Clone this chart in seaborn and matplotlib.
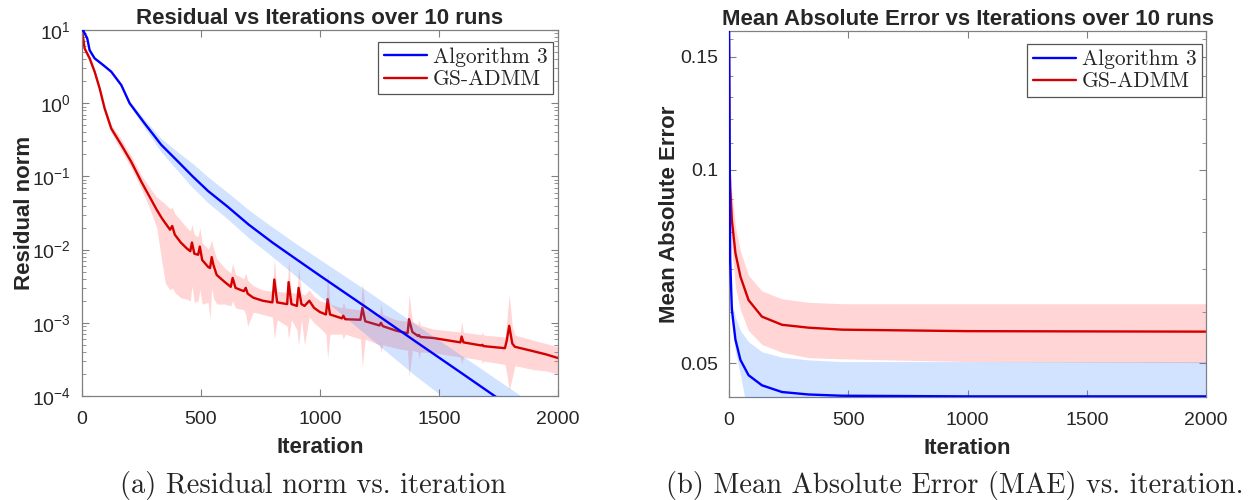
import numpy as np
import pandas as pd
import matplotlib
matplotlib.use("Agg")
import matplotlib.pyplot as plt
import matplotlib.ticker as mticker
from matplotlib.lines import Line2D
import seaborn as sns

# ---- residual norm (left) ----
alg_iter = [0, 4, 22, 32, 53, 90, 123, 165, 200, 263, 333, 403, 465, 530, 610,
            700, 800, 900, 1000, 1200, 1400, 1600, 1800, 2000]
alg_res = [10, 10, 7.7, 5.3, 4.1, 3.3, 2.69, 1.77, 1.0, 0.53, 0.27, 0.16, 0.1,
           0.063, 0.039, 0.022, 0.0125, 0.0074, 0.0044, 0.00158, 0.00056,
           0.0002, 7.1e-5, 2.5e-5]
alg_res_lo = [9.7, 9.7, 7.45, 5.1, 3.95, 3.17, 2.57, 1.68, 0.93, 0.46, 0.215, 0.118,
              0.07, 0.0435, 0.0265, 0.0145, 0.008, 0.0043, 0.0023, 0.00066,
              0.00019, 6.0e-5, 2.1e-5, 7e-6]
alg_res_hi = [10.3, 10.3, 7.95, 5.5, 4.25, 3.43, 2.81, 1.86, 1.07, 0.6, 0.33, 0.215,
              0.15, 0.098, 0.061, 0.035, 0.0203, 0.012, 0.0073, 0.0027, 0.00096,
              0.00035, 0.000126, 4.5e-5]

gs_iter = [0, 11, 32, 53, 74, 95, 123, 165, 207, 249, 285, 314,
           335, 350, 370, 379, 390, 415, 440, 455, 462, 472, 488, 495, 505, 530,
           538, 545, 552, 566, 600, 625, 633, 645, 680, 688, 696, 720, 760, 800,
           808, 820, 862, 868, 880, 903, 910, 922, 935, 955, 975, 1000, 1025, 1032,
           1042, 1092, 1098, 1106, 1170, 1178, 1190, 1250, 1256, 1264, 1320, 1368,
           1374, 1388, 1412, 1416, 1422, 1476, 1590, 1595, 1603, 1678, 1682, 1688,
           1777, 1785, 1795, 1808, 1819, 1895, 1950, 2000]
gs_res = [10.0, 5.6, 4.1, 2.7, 1.6, 0.85, 0.45, 0.27, 0.158, 0.085, 0.052, 0.035,
          0.027, 0.023, 0.0187, 0.021, 0.016, 0.0125, 0.0104,
          0.0095, 0.0125, 0.0088, 0.0085, 0.011, 0.0072, 0.0058, 0.0056, 0.0079,
          0.0062, 0.0045, 0.0036, 0.0031, 0.0041, 0.003, 0.0027, 0.003, 0.0025,
          0.0022, 0.0020, 0.0019, 0.0039, 0.0019, 0.0018, 0.0036, 0.0018, 0.0017,
          0.003, 0.0018, 0.0017, 0.002, 0.0016, 0.0014, 0.0013, 0.0021, 0.0013,
          0.00115, 0.00125, 0.00112, 0.0011, 0.0016, 0.00105, 0.00092, 0.001,
          0.0009, 0.00078, 0.00072, 0.00112, 0.00075, 0.00066, 0.00068, 0.00064,
          0.00062, 0.00054, 0.00065, 0.00054, 0.00049, 0.0005, 0.00048, 0.00045,
          0.00058, 0.00091, 0.00052, 0.00047, 0.00041, 0.00037, 0.00033]
gs_res_lo = [9.6, 5.2, 3.8, 2.5, 1.45, 0.76, 0.39, 0.225, 0.13, 0.068, 0.036, 0.02,
             0.007, 0.0035, 0.0028, 0.003, 0.0026,
             0.0022, 0.0021, 0.002, 0.0032, 0.0019, 0.002, 0.0028, 0.0018, 0.0019,
             0.0011, 0.003, 0.0022, 0.0018, 0.0018, 0.0017, 0.002, 0.0016, 0.0015,
             0.0013, 0.0009, 0.0014, 0.0013, 0.0012, 0.0006, 0.0011, 0.0009, 0.0006,
             0.0011, 0.0008, 0.0005, 0.0011, 0.0005, 0.0012, 0.001, 0.00085, 0.0007,
             0.00032, 0.0007, 0.0007, 0.0006, 0.0007, 0.0006, 0.00025, 0.0006,
             0.0005, 0.0004, 0.0005, 0.00045, 0.00042, 0.00018, 0.00042, 0.0004,
             0.00032, 0.0004, 0.00039, 0.00034, 0.00028, 0.00034, 0.00031, 0.00028,
             0.0003, 0.00027, 0.0002, 0.00012, 0.00018, 0.00026, 0.00023, 0.00022,
             0.0002]
gs_res_hi = [10.4, 6.0, 4.4, 2.9, 1.75, 0.94, 0.51, 0.32, 0.19, 0.104, 0.07, 0.052,
             0.046, 0.042, 0.036, 0.038, 0.031, 0.025,
             0.02, 0.018, 0.022, 0.016, 0.015, 0.02, 0.0125, 0.0102, 0.0115, 0.0135,
             0.0105, 0.0075, 0.0056, 0.0048, 0.0065, 0.0046, 0.004, 0.0048, 0.0038,
             0.0032, 0.0028, 0.0027, 0.0075, 0.0027, 0.0026, 0.0072, 0.0026, 0.0025,
             0.0058, 0.0025, 0.0024, 0.0028, 0.0023, 0.002, 0.0019, 0.005, 0.0018,
             0.0016, 0.0019, 0.0016, 0.0015, 0.0036, 0.0015, 0.0013, 0.0018, 0.0013,
             0.0011, 0.00105, 0.0025, 0.00105, 0.00095, 0.0011, 0.00092, 0.00082,
             0.00075, 0.00105, 0.00074, 0.00069, 0.00075, 0.00068, 0.00064, 0.0011,
             0.0024, 0.0009, 0.00068, 0.00058, 0.00052, 0.00047]

# ---- mean absolute error (right) ----
alg_mae_iter = [0, 3, 5, 12, 27, 48, 82, 138, 222, 334, 474, 1000, 2000]
alg_mae = [0.17, 0.10, 0.0724, 0.0606, 0.0544, 0.0506, 0.0479, 0.0462, 0.0451,
           0.0447, 0.0445, 0.0444, 0.0444]
alg_mae_lo = [0.165, 0.095, 0.067, 0.0585, 0.052, 0.048, 0.041, 0.038, 0.038,
              0.038, 0.038, 0.038, 0.038]
alg_mae_hi = [0.175, 0.105, 0.078, 0.0621, 0.059, 0.0562, 0.054, 0.0521, 0.0511,
              0.0506, 0.0503, 0.0503, 0.0503]

gs_mae_iter = [0, 2, 5, 12, 27, 48, 82, 138, 222, 334, 474, 1000, 2000]
gs_mae = [0.16, 0.1036, 0.094, 0.0836, 0.0742, 0.0682, 0.0627, 0.0591, 0.0574,
          0.0568, 0.0564, 0.0561, 0.0560]
gs_mae_lo = [0.155, 0.095, 0.086, 0.0755, 0.0657, 0.0605, 0.0562, 0.0535, 0.052,
             0.051, 0.0508, 0.0503, 0.0501]
gs_mae_hi = [0.165, 0.112, 0.10, 0.092, 0.0816, 0.0748, 0.0685, 0.0648, 0.063,
             0.0622, 0.0619, 0.0619, 0.0619]

blue = "#0000ff"
red = "#d40000"
blue_fill = (0.2, 0.5, 1.0)
red_fill = (1.0, 0.4, 0.4)
spine_col = "#808080"

sns.set_style("ticks")
plt.rcParams["font.family"] = ["Liberation Sans", "DejaVu Sans"]
plt.rcParams["mathtext.default"] = "regular"
plt.rcParams["axes.edgecolor"] = spine_col
plt.rcParams["xtick.color"] = spine_col
plt.rcParams["ytick.color"] = spine_col
plt.rcParams["xtick.labelcolor"] = "#262626"
plt.rcParams["ytick.labelcolor"] = "#262626"

fig = plt.figure(figsize=(12.5, 5), dpi=100)
ax1 = fig.add_axes([82 / 1250, 104 / 500, 476 / 1250, 366 / 500])
ax2 = fig.add_axes([729 / 1250, 103 / 500, 477 / 1250, 366 / 500])


def draw(ax, it_a, a, a_lo, a_hi, it_g, g, g_lo, g_hi):
    ax.fill_between(it_g, g_lo, g_hi, color=red_fill, alpha=0.27, lw=0, zorder=1)
    sns.lineplot(x=it_g, y=g, ax=ax, color=red, lw=1.7, zorder=2)
    ax.fill_between(it_a, a_lo, a_hi, color=blue_fill, alpha=0.22, lw=0, zorder=3)
    sns.lineplot(x=it_a, y=a, ax=ax, color=blue, lw=1.7, zorder=4)
    ax.set_yscale("log")
    ax.set_xlim(0, 2000)
    ax.set_xticks([0, 500, 1000, 1500, 2000])
    ax.tick_params(which="both", direction="in", top=True, right=True, labelsize=14)
    ax.tick_params(axis="x", pad=11)
    ax.tick_params(axis="y", pad=8)
    ax.tick_params(which="major", length=5, width=0.8)
    ax.tick_params(which="minor", length=3, width=0.6)
    for s in ax.spines.values():
        s.set_linewidth(0.9)
    ax.set_xlabel("Iteration", fontsize=16, fontweight="bold")
    ax.xaxis.set_label_coords(0.5, -0.112)
    handles = [Line2D([], [], color=blue, lw=1.7), Line2D([], [], color=red, lw=1.7)]
    return handles


h = draw(ax1, alg_iter, alg_res, alg_res_lo, alg_res_hi,
         gs_iter, gs_res, gs_res_lo, gs_res_hi)
ax1.set_ylim(1e-4, 1e1)
ax1.yaxis.set_major_locator(mticker.LogLocator(base=10, numticks=10))
ax1.yaxis.set_minor_locator(mticker.LogLocator(base=10, subs=np.arange(2, 10), numticks=20))
ax1.yaxis.set_minor_formatter(mticker.NullFormatter())
ax1.set_ylabel("Residual norm", fontsize=16, fontweight="bold")
ax1.yaxis.set_label_coords(-0.098, 0.5)
ax1.set_title("Residual vs Iterations over 10 runs", fontsize=16, fontweight="bold", pad=4)

draw(ax2, alg_mae_iter, alg_mae, alg_mae_lo, alg_mae_hi,
     gs_mae_iter, gs_mae, gs_mae_lo, gs_mae_hi)
ax2.set_ylim(0.0443, 0.1646)
ax2.yaxis.set_major_locator(mticker.FixedLocator([0.05, 0.1, 0.15]))
ax2.yaxis.set_major_formatter(mticker.FixedFormatter(["0.05", "0.1", "0.15"]))
ax2.yaxis.set_minor_locator(mticker.FixedLocator(
    [0.06, 0.07, 0.08, 0.09, 0.11, 0.12, 0.13, 0.14, 0.16]))
ax2.yaxis.set_minor_formatter(mticker.NullFormatter())
ax2.set_ylabel("Mean Absolute Error", fontsize=16, fontweight="bold")
ax2.yaxis.set_label_coords(-0.103, 0.5)
ax2.set_title("Mean Absolute Error vs Iterations over 10 runs", fontsize=16,
              fontweight="bold", pad=4)

labels = ["Algorithm 3", "GS-ADMM"]
for ax, anchor in [(ax1, (0.99, 0.967)), (ax2, (0.992, 0.964))]:
    leg = ax.legend(h, labels, loc="upper right", bbox_to_anchor=anchor,
                    prop={"family": "cmr10", "size": 15.5}, frameon=True,
                    fancybox=False, framealpha=1, edgecolor="#555555",
                    handlelength=2.0, handletextpad=0.3, labelspacing=0.12,
                    borderpad=0.25, borderaxespad=0)
    leg.get_frame().set_linewidth(0.9)

fig.text(313 / 1250, 1 - 485 / 500, "(a) Residual norm vs. iteration",
         family="cmr10", fontsize=20.5, ha="center", va="center")
fig.text(955 / 1250, 1 - 485 / 500, "(b) Mean Absolute Error (MAE) vs. iteration.",
         family="cmr10", fontsize=20.5, ha="center", va="center")

fig.savefig("out.png", dpi=100)
